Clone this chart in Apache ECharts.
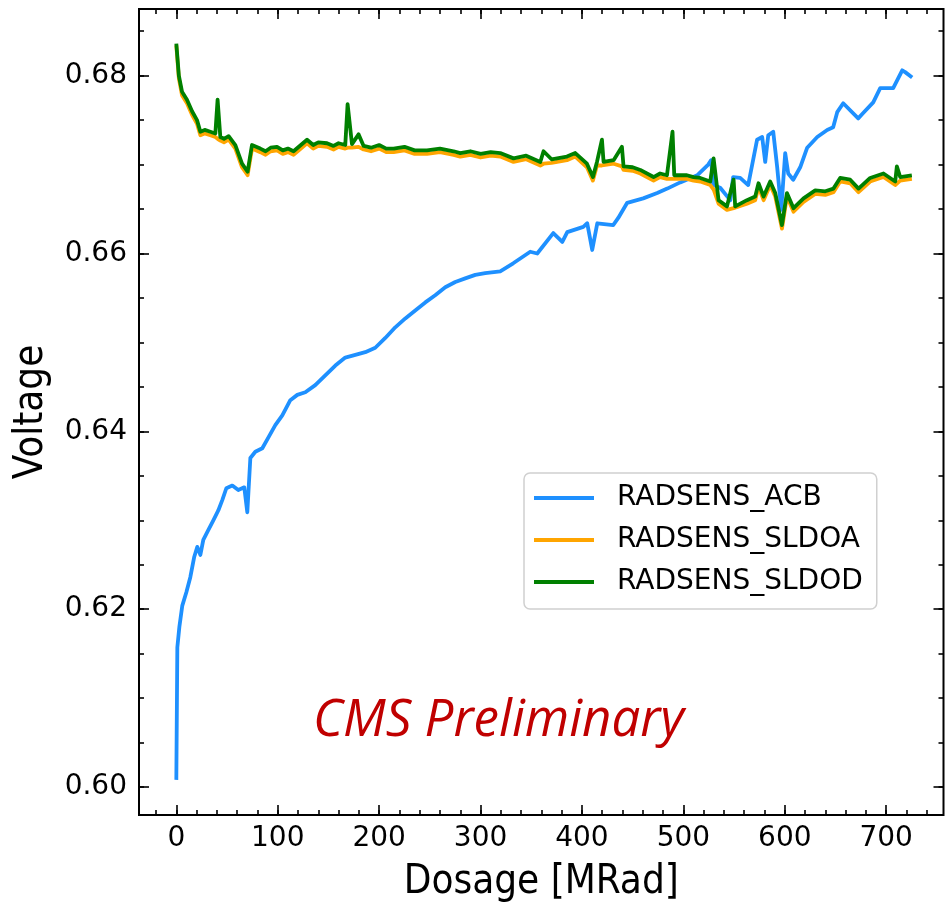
<!DOCTYPE html>
<html>
<head>
<meta charset="utf-8">
<script src="https://cdn.jsdelivr.net/npm/echarts@6/dist/echarts.min.js"></script>
<style>html,body{margin:0;padding:0;background:#fff;}#chart{width:947px;height:904px;}</style>
</head>
<body>
<div id="chart"></div>
<script>
// ---------------- DATA ----------------
const seriesNames = ['RADSENS_ACB', 'RADSENS_SLDOA', 'RADSENS_SLDOD'];

const acbDose = [0, 1.0, 3.0, 5.9, 9.9, 13.8, 17.7, 20.7, 23.7, 26.6, 31.5, 36.5, 41.4, 45.4, 49.3, 55.2, 61.1, 67.0, 70.0, 73.0, 77.9, 84.8, 90.7, 97.6, 104.5, 112.4, 119.3, 127.2, 137.0, 146.9, 156.8, 166.6, 176.5, 186.3, 196.2, 206.1, 215.9, 225.8, 235.6, 245.5, 255.3, 265.2, 275.1, 284.9, 294.8, 304.6, 319.4, 332.2, 349.0, 355.9, 371.7, 380.6, 385.5, 401.3, 405.2, 410.1, 415.1, 430.8, 435.8, 444.6, 460.4, 474.2, 484.1, 496.9, 513.6, 524.5, 527.4, 529.4, 536.3, 546.2, 549.1, 556.0, 563.9, 572.7, 577.7, 580.7, 583.7, 588.6, 592.5, 596.5, 600.4, 603.4, 608.3, 615.2, 622.1, 632.0, 641.8, 647.7, 651.7, 657.6, 672.4, 677.3, 687.2, 694.1, 706.9, 715.8, 718.7, 725.6];
const acbVolt = [0.6008, 0.6157, 0.6180, 0.6204, 0.6219, 0.6236, 0.6259, 0.6270, 0.6261, 0.6278, 0.6289, 0.6300, 0.6311, 0.6323, 0.6336, 0.6339, 0.6334, 0.6337, 0.6309, 0.6370, 0.6377, 0.6381, 0.6393, 0.6407, 0.6418, 0.6435, 0.6441, 0.6444, 0.6452, 0.6463, 0.6474, 0.6483, 0.6486, 0.6489, 0.6494, 0.6505, 0.6517, 0.6527, 0.6536, 0.6545, 0.6553, 0.6562, 0.6568, 0.6572, 0.6576, 0.6578, 0.6580, 0.6589, 0.6602, 0.6600, 0.6623, 0.6613, 0.6624, 0.6630, 0.6634, 0.6604, 0.6634, 0.6632, 0.6640, 0.6657, 0.6662, 0.6668, 0.6673, 0.6680, 0.6688, 0.6700, 0.6705, 0.6677, 0.6674, 0.6660, 0.6686, 0.6685, 0.6677, 0.6728, 0.6731, 0.6703, 0.6733, 0.6737, 0.6697, 0.6649, 0.6713, 0.6690, 0.6683, 0.6697, 0.6719, 0.6731, 0.6739, 0.6742, 0.6759, 0.6769, 0.6752, 0.6758, 0.6770, 0.6786, 0.6786, 0.6806, 0.6804, 0.6798];

const sldoDose = [0, 2.5, 5.6, 10.5, 15.5, 20.4, 23.7, 28.0, 33.5, 38.5, 40.7, 43.4, 47.0, 51.6, 58.2, 64.8, 70.3, 74.6, 82.8, 88.0, 93.0, 99.3, 105.0, 110.0, 115.6, 128.9, 135.0, 140.0, 148.6, 155.0, 160.0, 166.6, 168.9, 173.2, 179.7, 184.7, 192.0, 200.0, 207.0, 214.3, 225.0, 235.0, 247.2, 260.0, 273.4, 280.0, 290.0, 300.0, 310.0, 319.4, 332.5, 345.0, 358.9, 362.1, 370.0, 385.2, 393.4, 404.9, 410.8, 414.8, 419.7, 421.3, 431.2, 439.4, 441.0, 450.0, 457.5, 470.6, 477.0, 483.8, 489.3, 491.0, 503.5, 510.0, 516.6, 526.5, 529.8, 534.7, 543.0, 549.5, 551.1, 562.7, 570.8, 574.1, 579.1, 585.6, 590.6, 597.2, 602.1, 608.6, 618.5, 630.0, 640.0, 648.0, 654.6, 664.5, 672.7, 684.2, 697.3, 708.9, 710.5, 713.8, 725.3];
const sldoaVolt = [0.6834, 0.6797, 0.6778, 0.6769, 0.6756, 0.6746, 0.6733, 0.6735, 0.6733, 0.6731, 0.6729, 0.6727, 0.6725, 0.6728, 0.6718, 0.6697, 0.6688, 0.6718, 0.6714, 0.6711, 0.6715, 0.6716, 0.6712, 0.6714, 0.6711, 0.6724, 0.6718, 0.6721, 0.6720, 0.6717, 0.6720, 0.6718, 0.6719, 0.6719, 0.6720, 0.6717, 0.6715, 0.6718, 0.6714, 0.6714, 0.6716, 0.6712, 0.6712, 0.6714, 0.6711, 0.6709, 0.6711, 0.6708, 0.6710, 0.6709, 0.6703, 0.6706, 0.6699, 0.6701, 0.6702, 0.6705, 0.6709, 0.6697, 0.6682, 0.6699, 0.6699, 0.6699, 0.6701, 0.6698, 0.6694, 0.6693, 0.6690, 0.6682, 0.6686, 0.6684, 0.6684, 0.6684, 0.6684, 0.6682, 0.6681, 0.6677, 0.6672, 0.6656, 0.6649, 0.6651, 0.6649, 0.6656, 0.6660, 0.6675, 0.6660, 0.6677, 0.6664, 0.6628, 0.6664, 0.6647, 0.6658, 0.6667, 0.6666, 0.6669, 0.6681, 0.6679, 0.6669, 0.6681, 0.6686, 0.6677, 0.6679, 0.6682, 0.6684];
const sldodVolt = [0.6836, 0.6800, 0.6782, 0.6773, 0.6760, 0.6750, 0.6737, 0.6739, 0.6737, 0.6735, 0.6773, 0.6731, 0.6729, 0.6732, 0.6722, 0.6701, 0.6692, 0.6722, 0.6718, 0.6715, 0.6719, 0.6720, 0.6716, 0.6718, 0.6715, 0.6728, 0.6722, 0.6725, 0.6724, 0.6721, 0.6724, 0.6722, 0.6768, 0.6723, 0.6734, 0.6721, 0.6719, 0.6722, 0.6718, 0.6718, 0.6720, 0.6716, 0.6716, 0.6718, 0.6715, 0.6713, 0.6715, 0.6712, 0.6714, 0.6713, 0.6707, 0.6710, 0.6703, 0.6715, 0.6706, 0.6709, 0.6713, 0.6701, 0.6686, 0.6703, 0.6728, 0.6703, 0.6705, 0.6720, 0.6698, 0.6697, 0.6694, 0.6686, 0.6690, 0.6688, 0.6737, 0.6688, 0.6688, 0.6686, 0.6685, 0.6681, 0.6707, 0.6660, 0.6653, 0.6683, 0.6653, 0.6660, 0.6664, 0.6679, 0.6664, 0.6681, 0.6668, 0.6632, 0.6668, 0.6651, 0.6662, 0.6671, 0.6670, 0.6673, 0.6685, 0.6683, 0.6673, 0.6685, 0.6690, 0.6681, 0.6698, 0.6686, 0.6688];

// axis ranges and tick labels
const xRange = [-36.8, 756.5];
const yRange = [0.59685, 0.6875];
const xMajor = {min: 0, max: 700, step: 100};
const xMinor = {min: -20, max: 740, step: 20};
const yMajor = {min: 0.60, max: 0.68, step: 0.02};
const yMinor = {min: 0.600, max: 0.685, step: 0.005};
const xTitle = 'Dosage [MRad]';
const yTitle = 'Voltage';
const stamp = 'CMS Preliminary';

// ---------------- LAYOUT ----------------
const W = 947, H = 904;
const F = {left: 139, top: 9, right: 943.5, bottom: 815};
const px = x => F.left + (x - xRange[0]) / (xRange[1] - xRange[0]) * (F.right - F.left);
const py = y => F.bottom - (y - yRange[0]) / (yRange[1] - yRange[0]) * (F.bottom - F.top);
const FONT = 'DejaVu Sans';
const NAMEFONT = 'DejaVu Sans Condensed, DejaVu Sans';
const tickLine = {color: '#000', width: 1.6};

const gridBase = {outerBoundsMode: 'none', containLabel: false};
const grids = [
  Object.assign({left: F.left, top: F.top, width: F.right - F.left, height: F.bottom - F.top, show: true, borderColor: '#000', borderWidth: 2, backgroundColor: 'transparent'}, gridBase),
  Object.assign({left: px(xMinor.min), width: px(xMinor.max) - px(xMinor.min), top: F.top, height: F.bottom - F.top}, gridBase),
  Object.assign({left: px(xMajor.min), width: px(xMajor.max) - px(xMajor.min), top: F.top, height: F.bottom - F.top}, gridBase),
  Object.assign({left: F.left, width: F.right - F.left, top: py(yMinor.max), height: py(yMinor.min) - py(yMinor.max)}, gridBase),
  Object.assign({left: F.left, width: F.right - F.left, top: py(yMajor.max), height: py(yMajor.min) - py(yMajor.max)}, gridBase)
];

const hidden = (g) => ({type: 'value', gridIndex: g, show: false, min: 0, max: 1});
const noLine = {show: false};

const xAxes = [
  {type: 'value', gridIndex: 0, min: xRange[0], max: xRange[1], axisLine: noLine, axisTick: noLine, axisLabel: noLine, splitLine: noLine,
   name: xTitle, nameLocation: 'middle', nameGap: 48, nameTextStyle: {fontFamily: NAMEFONT, fontSize: 40, color: '#000'}},
  {type: 'value', gridIndex: 1, position: 'bottom', min: xMinor.min, max: xMinor.max, interval: xMinor.step, axisLine: noLine, axisLabel: noLine, splitLine: noLine,
   axisTick: {show: true, inside: true, length: 5, lineStyle: tickLine}},
  {type: 'value', gridIndex: 1, position: 'top', min: xMinor.min, max: xMinor.max, interval: xMinor.step, axisLine: noLine, axisLabel: noLine, splitLine: noLine,
   axisTick: {show: true, inside: true, length: 5, lineStyle: tickLine}},
  {type: 'value', gridIndex: 2, position: 'bottom', min: xMajor.min, max: xMajor.max, interval: xMajor.step, axisLine: noLine, splitLine: noLine,
   axisTick: {show: true, inside: true, length: 10, lineStyle: tickLine},
   axisLabel: {show: true, margin: 10, fontFamily: FONT, fontSize: 28, color: '#000'}},
  {type: 'value', gridIndex: 2, position: 'top', min: xMajor.min, max: xMajor.max, interval: xMajor.step, axisLine: noLine, axisLabel: noLine, splitLine: noLine,
   axisTick: {show: true, inside: true, length: 10, lineStyle: tickLine}},
  hidden(3), hidden(4)
];
const yAxes = [
  {type: 'value', gridIndex: 0, min: yRange[0], max: yRange[1], axisLine: noLine, axisTick: noLine, axisLabel: noLine, splitLine: noLine,
   name: yTitle, nameLocation: 'middle', nameGap: 87, nameRotate: 90, nameTextStyle: {fontFamily: NAMEFONT, fontSize: 40, color: '#000'}},
  hidden(1), hidden(2),
  {type: 'value', gridIndex: 3, position: 'left', min: yMinor.min, max: yMinor.max, interval: yMinor.step, axisLine: noLine, axisLabel: noLine, splitLine: noLine,
   axisTick: {show: true, inside: true, length: 5, lineStyle: tickLine}},
  {type: 'value', gridIndex: 3, position: 'right', min: yMinor.min, max: yMinor.max, interval: yMinor.step, axisLine: noLine, axisLabel: noLine, splitLine: noLine,
   axisTick: {show: true, inside: true, length: 5, lineStyle: tickLine}},
  {type: 'value', gridIndex: 4, position: 'left', min: yMajor.min, max: yMajor.max, interval: yMajor.step, axisLine: noLine, splitLine: noLine,
   axisTick: {show: true, inside: true, length: 10, lineStyle: tickLine},
   axisLabel: {show: true, margin: 12, fontFamily: FONT, fontSize: 28, color: '#000', formatter: v => v.toFixed(2)}},
  {type: 'value', gridIndex: 4, position: 'right', min: yMajor.min, max: yMajor.max, interval: yMajor.step, axisLine: noLine, axisLabel: noLine, splitLine: noLine,
   axisTick: {show: true, inside: true, length: 10, lineStyle: tickLine}}
];

const zip = (xs, ys) => xs.map((x, i) => [x, ys[i]]);
const colors = ['#1e90ff', '#ffa500', '#008000'];
const mk = (name, data, color, z) => ({
  name, type: 'line', xAxisIndex: 0, yAxisIndex: 0, data, symbol: 'none', showSymbol: false,
  lineStyle: {color, width: 3.8, join: 'round'}, itemStyle: {color}, z, clip: true, smooth: false
});

const option = {
  animation: false,
  backgroundColor: '#fff',
  grid: grids,
  xAxis: xAxes,
  yAxis: yAxes,
  legend: {
    data: seriesNames, orient: 'vertical', left: 524, top: 473,
    padding: [10, 14, 12, 10], itemGap: 12, itemWidth: 60, itemHeight: 4, icon: 'rect',
    borderColor: '#d0d0d0', borderWidth: 1.5, borderRadius: 6, backgroundColor: '#fff',
    textStyle: {fontFamily: FONT, fontSize: 28, color: '#000', padding: [0, 0, 0, 18], lineHeight: 30}
  },
  series: [
    mk(seriesNames[0], zip(acbDose, acbVolt), colors[0], 2),
    mk(seriesNames[1], zip(sldoDose, sldoaVolt), colors[1], 3),
    mk(seriesNames[2], zip(sldoDose, sldodVolt), colors[2], 4)
  ],
  graphic: [{
    type: 'text', left: 313, top: 696,
    style: {text: stamp, font: 'italic 51px "Open Sans"', fill: '#c00000'}
  }]
};

const chart = echarts.init(document.getElementById('chart'), null, {renderer: 'canvas', width: W, height: H});
chart.setOption(option);
</script>
</body>
</html>
